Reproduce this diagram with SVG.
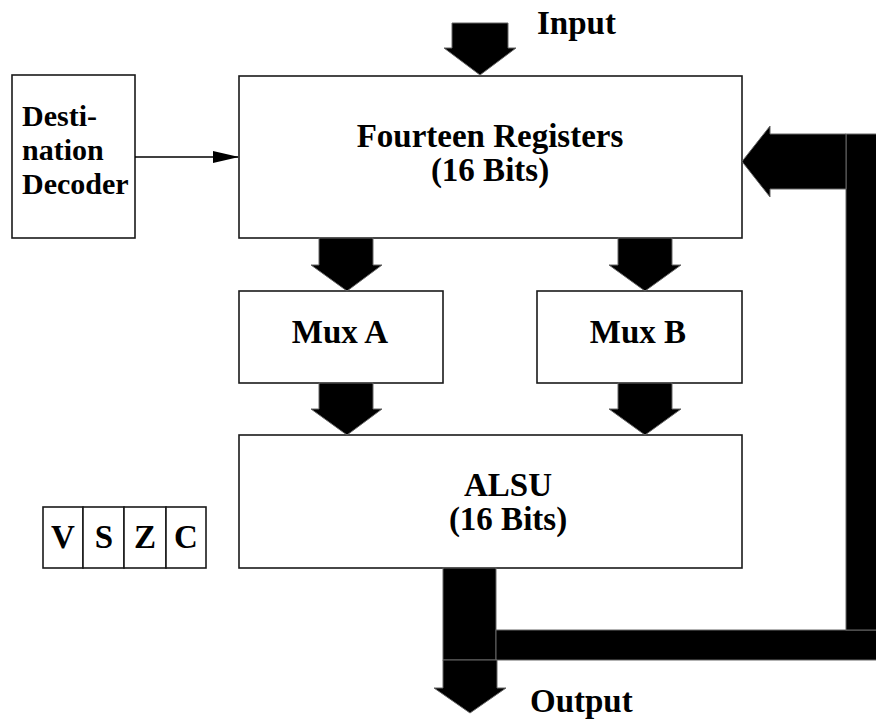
<svg xmlns="http://www.w3.org/2000/svg" width="876" height="721" viewBox="0 0 876 721">
  <defs>
    <style>
      .box { fill: #fff; stroke: #1a1a1a; stroke-width: 1.6; }
      .bus { fill: #000; stroke: #666; stroke-width: 1; }
      .wire { stroke: #000; stroke-width: 1.5; fill: none; }
      .lbl { font-family: "Liberation Serif", "Times New Roman", serif; font-weight: bold; font-size: 33px; fill: #000; }
      .mid { text-anchor: middle; }
      .small { font-size: 30px; }
    </style>
    <marker id="arrow" markerWidth="26" markerHeight="12" refX="25" refY="6" orient="auto" markerUnits="userSpaceOnUse">
      <path d="M0,0 L26,6 L0,12 Z" fill="#000"/>
    </marker>
  </defs>

  <rect width="876" height="721" fill="#fff"/>

  <!-- Nodes -->
  <g id="registers">
    <rect class="box" x="239" y="76" width="503" height="162"/>
    <text class="lbl mid" x="490" y="147">Fourteen Registers</text>
    <text class="lbl mid" x="490" y="181">(16 Bits)</text>
  </g>

  <g id="decoder">
    <rect class="box" x="12" y="75" width="123" height="163"/>
    <text class="lbl small" x="22" y="126">Desti-</text>
    <text class="lbl small" x="22" y="160">nation</text>
    <text class="lbl small" x="22" y="194">Decoder</text>
  </g>

  <g id="mux-a">
    <rect class="box" x="239" y="291" width="204" height="92"/>
    <text class="lbl mid" x="340" y="343">Mux A</text>
  </g>

  <g id="mux-b">
    <rect class="box" x="537" y="291" width="205" height="92"/>
    <text class="lbl mid" x="638" y="343">Mux B</text>
  </g>

  <g id="alsu">
    <rect class="box" x="239" y="435" width="503" height="133"/>
    <text class="lbl mid" x="508" y="496">ALSU</text>
    <text class="lbl mid" x="508" y="530">(16 Bits)</text>
  </g>

  <g id="flags">
    <rect class="box" x="43" y="507" width="40" height="61"/>
    <rect class="box" x="83" y="507" width="41" height="61"/>
    <rect class="box" x="124" y="507" width="42" height="61"/>
    <rect class="box" x="166" y="507" width="40" height="61"/>
    <text class="lbl mid" x="63" y="548">V</text>
    <text class="lbl mid" x="104" y="548">S</text>
    <text class="lbl mid" x="145" y="548">Z</text>
    <text class="lbl mid" x="186" y="548">C</text>
  </g>

  <g id="input-label">
    <text class="lbl" x="537" y="34">Input</text>
  </g>
  <g id="output-label">
    <text class="lbl" x="530" y="712">Output</text>
  </g>

  <!-- Connectors -->
  <g id="connectors">
    <!-- decoder select line -->
    <line class="wire" x1="135" y1="157" x2="238" y2="157" marker-end="url(#arrow)"/>

    <!-- input bus -->
    <polygon class="bus" points="452,23 508,23 508,48 516,48 480,75 444,48 452,48"/>

    <!-- registers to multiplexers -->
    <polygon class="bus" points="319,238 373,238 373,265 382,265 347,291 311,265 319,265"/>
    <polygon class="bus" points="618,238 672,238 672,265 681,265 645,291 609,265 618,265"/>

    <!-- multiplexers to ALSU -->
    <polygon class="bus" points="319,383 373,383 373,409 382,409 347,435 311,409 319,409"/>
    <polygon class="bus" points="618,383 672,383 672,409 681,409 645,435 609,409 618,409"/>

    <!-- ALSU result bus and feedback loop -->
    <rect class="bus" x="443" y="568" width="53" height="92"/>
    <rect class="bus" x="496" y="630" width="390" height="30"/>
    <rect class="bus" x="846" y="134" width="40" height="496"/>
    <polygon class="bus" points="846,134 770,134 770,126 742,161.5 770,197 770,189 846,189"/>

    <!-- output bus -->
    <polygon class="bus" points="443,660 497,660 497,688 506,688 470,713 434,688 443,688"/>
  </g>
</svg>
